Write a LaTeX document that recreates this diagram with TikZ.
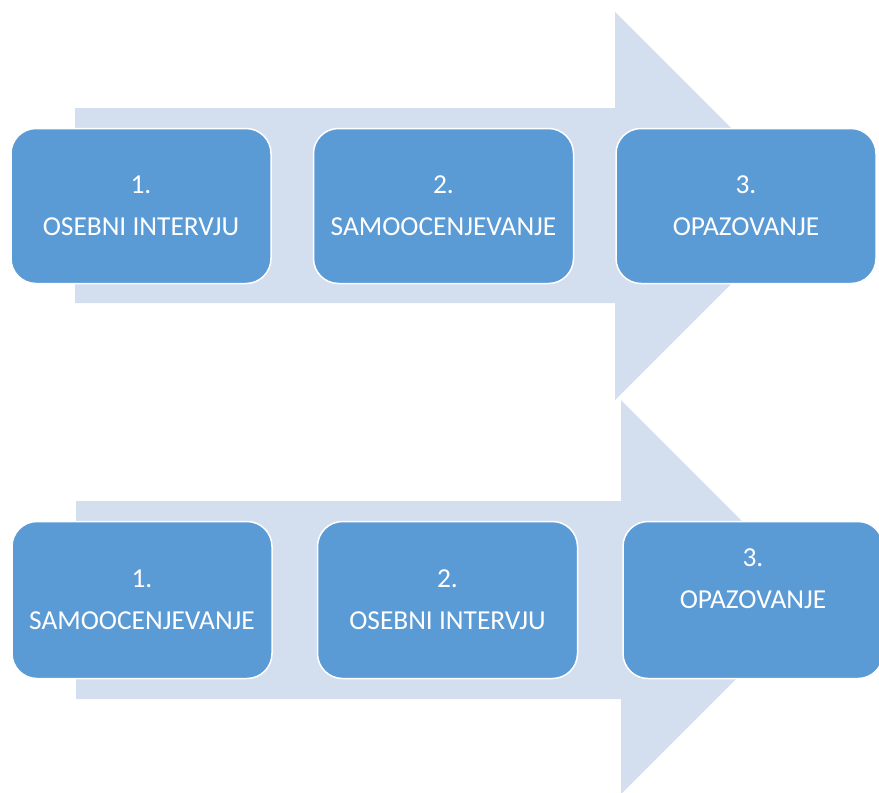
\documentclass[tikz,border=0pt]{standalone}
\usepackage{fontspec}
\setmainfont{Carlito}
\usetikzlibrary{positioning}
\definecolor{boxblue}{HTML}{5B9BD5}
\definecolor{bandblue}{HTML}{D3DEEF}

\begin{document}
\begin{tikzpicture}[
  x=1pt, y=-1pt,
  stagebox/.style={rectangle, rounded corners=25pt, draw=white,
    line width=1.5pt, fill=boxblue, text=white, align=center,
    minimum width=260pt, minimum height=155pt,
    font=\fontsize{27.4}{42}\selectfont},
  band/.style={fill=bandblue},
]
  \useasboundingbox (0,0) rectangle (879,793);
  \clip (0,0) rectangle (879,793);
  % Upper arrow
  \fill[band] (75,108) -- (615,108) -- (615,12) -- (809,206)
    -- (615,400) -- (615,303) -- (75,303) -- cycle;
  % Lower arrow
  \fill[band] (76,501) -- (621,501) -- (621,400) -- (818,597)
    -- (621,794) -- (621,699) -- (76,699) -- cycle;
  % Upper row
  \node[stagebox] (u1) at (141,206) {1.\\OSEBNI INTERVJU};
  \node[stagebox, right=41pt of u1] (u2) {2.\\SAMOOCENJEVANJE};
  \node[stagebox, right=41pt of u2] (u3) {3.\\OPAZOVANJE};
  % Lower row
  \node[stagebox, minimum height=157pt] (l1) at (142,600)
    {1.\\SAMOOCENJEVANJE};
  \node[stagebox, minimum height=157pt, right=44pt of l1] (l2)
    {2.\\OSEBNI INTERVJU};
  \node[stagebox, minimum height=157pt, right=44pt of l2] (l3)
    {3.\\OPAZOVANJE\\\mbox{}};
\end{tikzpicture}
\end{document}
